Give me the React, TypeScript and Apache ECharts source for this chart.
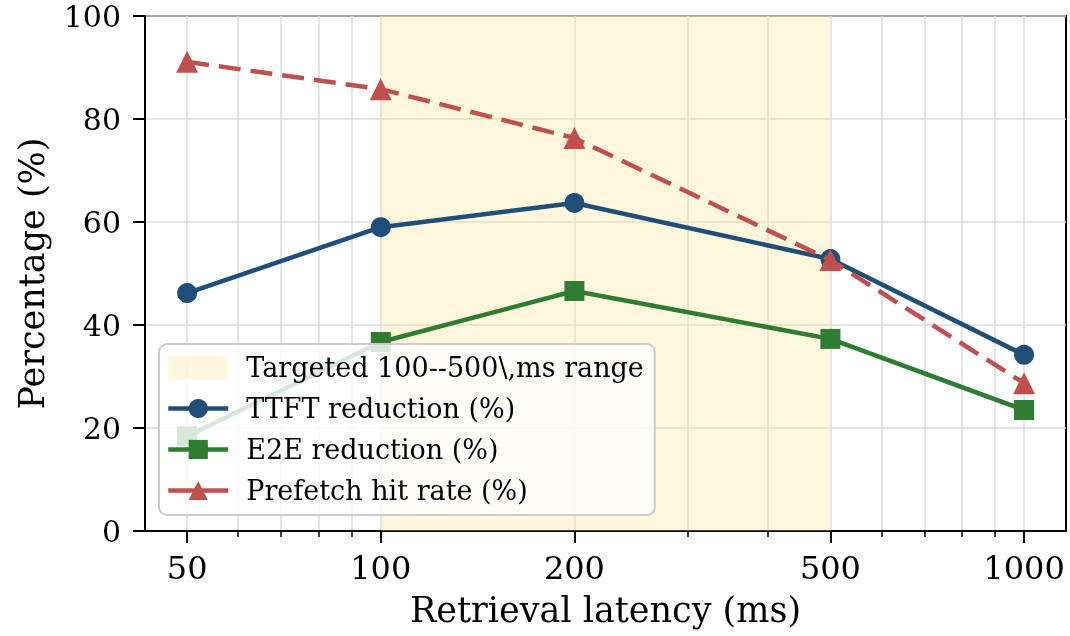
import React, { useEffect, useRef } from "react";
import * as echarts from "echarts";

const latencies = [50, 100, 200, 500, 1000];
const ttftReduction = [46.2, 59.0, 63.7, 52.8, 34.2];
const e2eReduction = [18.4, 36.7, 46.6, 37.3, 23.5];
const prefetchHit = [91.1, 85.8, 76.3, 52.6, 28.7];
const majorTicks = [50, 100, 200, 500, 1000];
const minorTicks = [60, 70, 80, 90, 300, 400, 600, 700, 800, 900];
const bandRange = [100, 500];
const xLimits = [43, 1162];
const yLimits = [0, 100];

const BAND_NAME = "Targeted 100--500\\,ms range";
const FONT = "DejaVu Serif";
const BAND_COLOR = "rgba(255, 225, 145, 0.3)";
const LW = 4.5;

export default function App() {
  const ref = useRef<HTMLDivElement>(null);
  useEffect(() => {
    if (!ref.current) return;
    const chart = echarts.init(ref.current, undefined, { renderer: "svg" });
    const pairs = (ys: number[]) => latencies.map((x, i) => [x, ys[i]]);
    const lg = (v: number) => Math.log10(v);
    const grid = { left: 145, top: 16, width: 921, height: 515, show: true, borderColor: "#000", borderWidth: 2, backgroundColor: "transparent" };
    chart.setOption({
      animation: false,
      grid,
      xAxis: [
        { type: "log", logBase: 10, min: xLimits[0], max: xLimits[1], show: false },
        {
          type: "value",
          min: lg(xLimits[0]),
          max: lg(xLimits[1]),
          position: "bottom",
          axisLine: { show: true, onZero: false, lineStyle: { color: "#000", width: 2 } },
          axisTick: { show: true, length: 12, lineStyle: { color: "#000", width: 2 }, customValues: majorTicks.map(lg) },
          axisLabel: {
            show: true,
            customValues: majorTicks.map(lg),
            formatter: (v: number) => String(Math.round(Math.pow(10, v))),
            fontFamily: FONT, fontSize: 32, color: "#000", margin: 21,
          },
          splitLine: { show: true, lineStyle: { color: "#dcdcdc", width: 1.5 } },
          name: "Retrieval latency (ms)",
          nameLocation: "middle",
          nameGap: 61,
          nameTextStyle: { fontFamily: FONT, fontSize: 35, color: "#000" },
        },
        {
          type: "value",
          min: lg(xLimits[0]),
          max: lg(xLimits[1]),
          position: "bottom",
          axisLine: { show: false, onZero: false },
          axisTick: { show: true, length: 6, lineStyle: { color: "#000", width: 1.5 }, customValues: minorTicks.map(lg) },
          axisLabel: { show: false },
          splitLine: { show: true, lineStyle: { color: "#dcdcdc", width: 1.5 } },
        },
      ],
      yAxis: {
        type: "value",
        min: yLimits[0],
        max: yLimits[1],
        interval: 20,
        axisLine: { show: true, lineStyle: { color: "#000", width: 2 } },
        axisTick: { show: true, length: 12, lineStyle: { color: "#000", width: 2 } },
        axisLabel: { fontFamily: FONT, fontSize: 30, lineHeight: 30, color: "#000", margin: 24 },
        splitLine: { show: true, lineStyle: { color: "#dcdcdc", width: 1.5 } },
        name: "Percentage (%)",
        nameLocation: "middle",
        nameGap: 96,
        nameTextStyle: { fontFamily: FONT, fontSize: 35, color: "#000" },
      },
      legend: {
        orient: "vertical",
        left: 159,
        top: 344,
        z: 20,
        padding: [8, 11, 9, 7],
        itemWidth: 60,
        itemHeight: 24,
        itemGap: 10,
        backgroundColor: "rgba(255,255,255,0.82)",
        borderColor: "#cccccc",
        borderWidth: 2,
        borderRadius: 8,
        textStyle: { fontFamily: FONT, fontSize: 27, color: "#000", lineHeight: 31, padding: [0, 0, 0, 13] },
        data: [
          { name: BAND_NAME, icon: "rect", itemStyle: { color: BAND_COLOR } },
          { name: "TTFT reduction (%)", lineStyle: { width: LW } },
          { name: "E2E reduction (%)", lineStyle: { width: LW } },
          { name: "Prefetch hit rate (%)", lineStyle: { width: LW, type: "solid" } },
        ],
      },
      series: [
        {
          name: BAND_NAME,
          type: "line",
          xAxisIndex: 0,
          data: [],
          z: 1,
          itemStyle: { color: BAND_COLOR },
          lineStyle: { color: BAND_COLOR },
          markArea: {
            silent: true,
            itemStyle: { color: BAND_COLOR, borderWidth: 0 },
            label: { show: false },
            data: [[{ xAxis: bandRange[0] }, { xAxis: bandRange[1] }]],
          },
        },
        {
          name: "TTFT reduction (%)",
          type: "line",
          xAxisIndex: 0,
          data: pairs(ttftReduction),
          z: 3,
          symbol: "circle",
          symbolSize: 20,
          itemStyle: { color: "#1f4e79" },
          lineStyle: { color: "#1f4e79", width: LW },
        },
        {
          name: "E2E reduction (%)",
          type: "line",
          xAxisIndex: 0,
          data: pairs(e2eReduction),
          z: 4,
          symbol: "rect",
          symbolSize: 20,
          itemStyle: { color: "#2e7d32" },
          lineStyle: { color: "#2e7d32", width: LW },
        },
        {
          name: "Prefetch hit rate (%)",
          type: "line",
          xAxisIndex: 0,
          data: pairs(prefetchHit),
          z: 5,
          symbol: "triangle",
          symbolSize: 22,
          itemStyle: { color: "#c0504d" },
          lineStyle: { color: "#c0504d", width: LW, type: [22, 10] },
        },
      ],
    });
    return () => chart.dispose();
  }, []);
  return <div ref={ref} style={{ position: "fixed", left: 0, top: 0, width: 1070, height: 636 }} />;
}
